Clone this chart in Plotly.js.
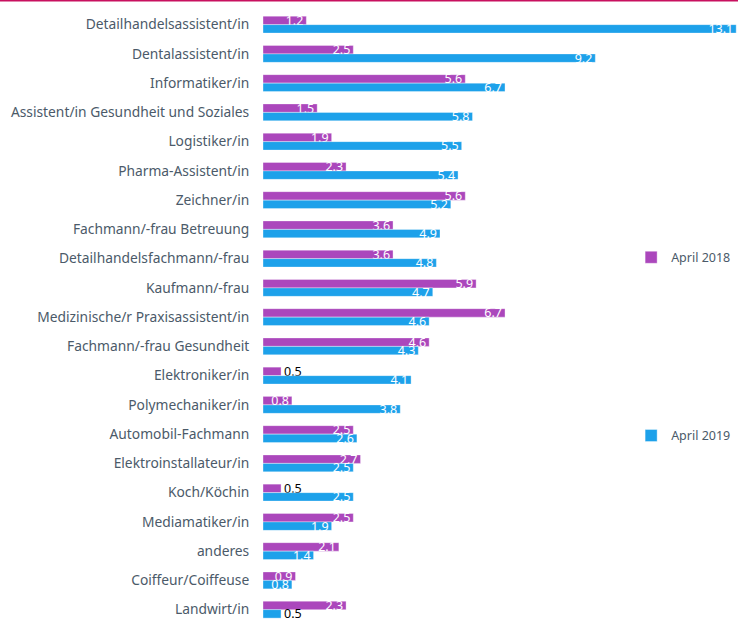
<!DOCTYPE html>
<html><head><meta charset="utf-8">
<script src="https://cdn.plot.ly/plotly-3.0.1.min.js"></script>
<style>html,body{margin:0;padding:0;background:#fff;}#chart{width:738px;height:619px;}</style>
</head><body><div id="chart"></div>
<script>
const categories = [
  "Detailhandelsassistent/in","Dentalassistent/in","Informatiker/in","Assistent/in Gesundheit und Soziales",
  "Logistiker/in","Pharma-Assistent/in","Zeichner/in","Fachmann/-frau Betreuung","Detailhandelsfachmann/-frau",
  "Kaufmann/-frau","Medizinische/r Praxisassistent/in","Fachmann/-frau Gesundheit","Elektroniker/in",
  "Polymechaniker/in","Automobil-Fachmann","Elektroinstallateur/in","Koch/Köchin","Mediamatiker/in",
  "anderes","Coiffeur/Coiffeuse","Landwirt/in"
];
const april2018 = [1.2,2.5,5.6,1.5,1.9,2.3,5.6,3.6,3.6,5.9,6.7,4.6,0.5,0.8,2.5,2.7,0.5,2.5,2.1,0.9,2.3];
const april2019 = [13.1,9.2,6.7,5.8,5.5,5.4,5.2,4.9,4.8,4.7,4.6,4.3,4.1,3.8,2.6,2.5,2.5,1.9,1.4,0.8,0.5];
const seriesNames = ["April 2018","April 2019"];
const colors = ["#AB47BC","#1DA1EA"];

const FONT = "Noto Sans, sans-serif";
function mk(vals, i){
  return {
    type:'bar', orientation:'h', name:seriesNames[i], legendgroup:'g'+i,
    y:categories, x:vals,
    marker:{color:colors[i], line:{color:'rgba(255,255,255,0.6)', width:0.6}},
    text:vals.map(v=>v.toFixed(1)),
    textposition:vals.map(v=>v<0.6?'outside':'inside'),
    textangle:0,
    insidetextanchor:'end',
    insidetextfont:{color:'#ffffff', size:12.5, family:FONT},
    outsidetextfont:{color:'#000000', size:12.5, family:FONT},
    cliponaxis:false,
    hoverinfo:'x+y'
  };
}
const data=[mk(april2018,0), mk(april2019,1)];
const layout={
  width:738, height:619,
  margin:{l:263, r:0, t:10, b:0, pad:0, autoexpand:false},
  barmode:'group', bargap:0.42, bargroupgap:0,
  font:{family:FONT, color:'#4b5a69'},
  paper_bgcolor:'#fff', plot_bgcolor:'#fff',
  uniformtext:{mode:'show', minsize:12.5},
  xaxis:{range:[0,13.15], visible:false, showgrid:false, zeroline:false},
  yaxis:{autorange:false, range:[20.32,-0.5], showgrid:false, zeroline:false, showline:false,
         ticks:'outside', ticklen:10, tickcolor:'rgba(0,0,0,0)',
         tickfont:{size:13.8, color:'#4b5a69', family:FONT}},
  legend:{x:0.775, xanchor:'left', y:0.618, yanchor:'top', traceorder:'grouped', tracegroupgap:159,
          font:{size:12.5, color:'#4b5a69', family:FONT}, bgcolor:'rgba(0,0,0,0)', itemwidth:30},
  shapes:[{type:'line', xref:'paper', yref:'paper', x0:-0.56, x1:1.01, y0:1.0155, y1:1.0155,
           line:{color:'#C8105F', width:2}}],
  showlegend:true
};
Plotly.newPlot('chart', data, layout, {displayModeBar:false, staticPlot:true});
</script></body></html>
